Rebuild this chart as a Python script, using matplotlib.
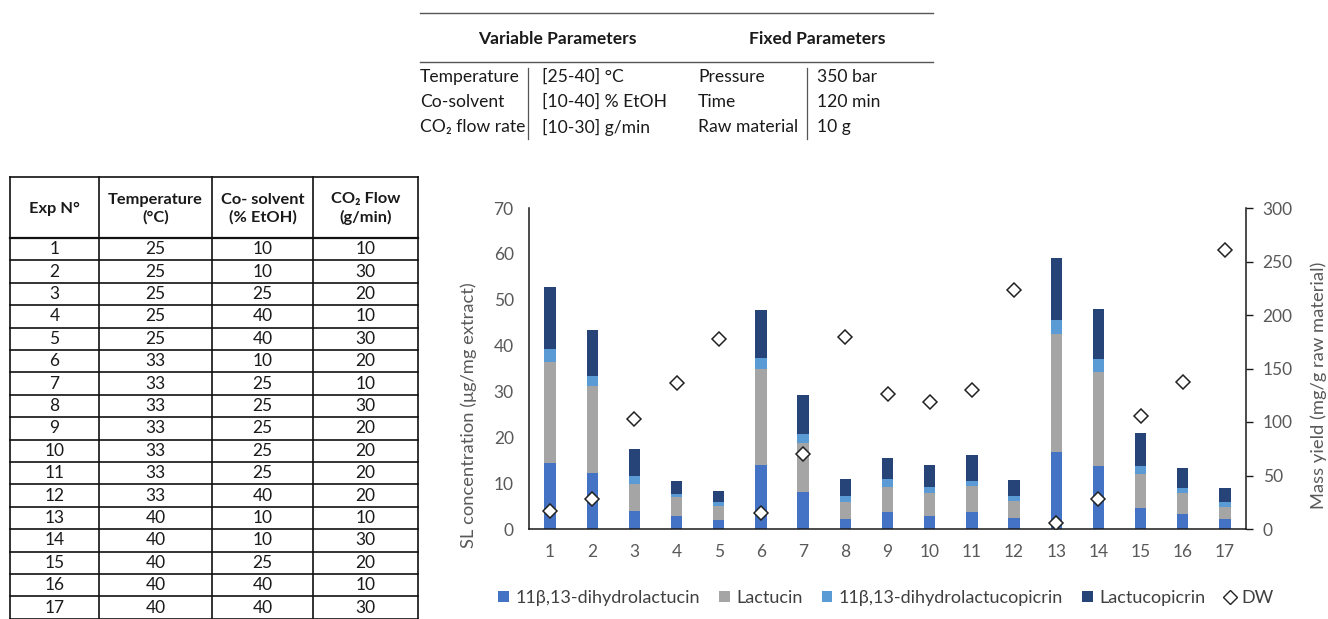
import matplotlib
matplotlib.use("Agg")
import matplotlib.pyplot as plt
from matplotlib.patches import Patch
from matplotlib.lines import Line2D
import numpy as np

plt.rcParams['font.family'] = ['Lato', 'DejaVu Sans']

# ---- data ----
exp_no = list(range(1, 18))
temperature = [25, 25, 25, 25, 25, 33, 33, 33, 33, 33, 33, 33, 40, 40, 40, 40, 40]
cosolvent = [10, 10, 25, 40, 40, 10, 25, 25, 25, 25, 25, 40, 10, 10, 25, 40, 40]
co2_flow = [10, 30, 20, 10, 30, 20, 10, 30, 20, 20, 20, 20, 10, 30, 20, 10, 30]

dh_lactucin = [14.4, 12.2, 3.9, 2.8, 2.0, 14.0, 8.0, 2.2, 3.6, 2.9, 3.6, 2.3, 16.9, 13.7, 4.6, 3.3, 2.2]
lactucin = [22.1, 18.9, 6.0, 4.2, 3.1, 21.0, 10.8, 3.6, 5.5, 4.9, 5.7, 3.7, 25.7, 20.5, 7.5, 4.5, 2.7]
dh_lactucopicrin = [2.7, 2.3, 1.7, 0.7, 0.8, 2.3, 1.9, 1.5, 1.7, 1.3, 1.2, 1.3, 2.9, 2.9, 1.7, 1.1, 1.0]
lactucopicrin = [13.6, 10.1, 5.9, 2.7, 2.3, 10.4, 8.6, 3.7, 4.7, 4.9, 5.6, 3.3, 13.6, 10.9, 7.1, 4.4, 3.0]
dw = [16.5, 28, 103, 136.5, 178, 15, 70, 179, 126, 119, 130, 223, 6, 28, 106, 137, 261]

var_params = ["Temperature", "Co-solvent", "CO\u2082 flow rate"]
var_ranges = ["[25-40] \u00b0C", "[10-40] % EtOH", "[10-30] g/min"]
fix_params = ["Pressure", "Time", "Raw material"]
fix_values = ["350 bar", "120 min", "10 g"]

series_names = ["11\u03b2,13-dihydrolactucin", "Lactucin", "11\u03b2,13-dihydrolactucopicrin", "Lactucopicrin"]
series_colors = ["#4472C4", "#A5A5A5", "#5B9BD5", "#264478"]

W, H = 1328, 619
fig = plt.figure(figsize=(W / 100, H / 100), dpi=100)

# overlay in pixel coordinates for the two tables
ov = fig.add_axes([0, 0, 1, 1])
ov.set_xlim(0, W)
ov.set_ylim(H, 0)
ov.axis('off')

txt = '#1a1a1a'
fs_top = 12.6
# top parameters table
ov.plot([420, 933], [12.5, 12.5], color='#555555', lw=1)
ov.plot([420, 933], [62, 62], color='#555555', lw=1)
ov.text(557, 39, "Variable Parameters", ha='center', va='center', fontsize=fs_top, fontweight='bold', color=txt)
ov.text(817, 39, "Fixed Parameters", ha='center', va='center', fontsize=fs_top, fontweight='bold', color=txt)
row_y = [77, 102, 127]
for i in range(3):
    ov.text(420, row_y[i], var_params[i], ha='left', va='center', fontsize=fs_top, color=txt)
    ov.text(542, row_y[i], var_ranges[i], ha='left', va='center', fontsize=fs_top, color=txt)
    ov.text(698, row_y[i], fix_params[i], ha='left', va='center', fontsize=fs_top, color=txt)
    ov.text(817, row_y[i], fix_values[i], ha='left', va='center', fontsize=fs_top, color=txt)
ov.plot([528, 528], [68, 139], color='#555555', lw=0.9)
ov.plot([807, 807], [68, 139], color='#555555', lw=0.9)

# left experiment table
col_edges = [10, 99, 212, 313, 418]
top, head_bot, row_h = 177, 238, 22.4
n_rows = len(exp_no)
bottom = head_bot + n_rows * row_h
for x in col_edges:
    ov.plot([x, x], [top, bottom], color='#111111', lw=1.2)
ov.plot([col_edges[0], col_edges[-1]], [top, top], color='#111111', lw=1.2)
ov.plot([col_edges[0], col_edges[-1]], [head_bot, head_bot], color='#111111', lw=1.6)
for r in range(1, n_rows + 1):
    y = head_bot + r * row_h
    ov.plot([col_edges[0], col_edges[-1]], [y, y], color='#111111', lw=1.2)

centers = [(col_edges[i] + col_edges[i + 1]) / 2 for i in range(4)]
headers = ["Exp N\u00b0", "Temperature\n(\u00b0C)", "Co- solvent\n(% EtOH)", "CO\u2082 Flow\n(g/min)"]
for c, h in zip(centers, headers):
    ov.text(c, (top + head_bot) / 2 + 1, h, ha='center', va='center', fontsize=11.8,
            fontweight='bold', color=txt, linespacing=1.25)
for r in range(n_rows):
    y = head_bot + (r + 0.5) * row_h
    vals = [exp_no[r], temperature[r], cosolvent[r], co2_flow[r]]
    for c, v in zip(centers, vals):
        ov.text(c, y, str(v), ha='center', va='center', fontsize=12.5, color=txt)

# ---- chart ----
ax = fig.add_axes([529 / W, 1 - 529 / H, (1246 - 529) / W, (529 - 208) / H])
ax2 = ax.twinx()

x = np.array(exp_no)
base = np.zeros(len(x))
for vals, name, col in zip([dh_lactucin, lactucin, dh_lactucopicrin, lactucopicrin], series_names, series_colors):
    ax.bar(x, vals, width=0.27, bottom=base, color=col, label=name, zorder=2)
    base = base + np.array(vals)

ax2.plot(x, dw, linestyle='none', marker='D', markersize=7.5, markerfacecolor='white',
         markeredgecolor='#222222', markeredgewidth=1.1, label='DW', zorder=3)

gray = '#595959'
fs_tick = 12.5
ax.set_xlim(0.5, 17.5)
ax.set_ylim(0, 70)
ax2.set_ylim(0, 300)
ax.set_yticks(range(0, 71, 10))
ax2.set_yticks(range(0, 301, 50))
ax.set_xticks(x)
ax.set_xticklabels([str(v) for v in exp_no])

for a in (ax, ax2):
    for s in a.spines.values():
        s.set_visible(False)
ax.spines['left'].set_visible(True)
ax.spines['bottom'].set_visible(True)
ax2.spines['right'].set_visible(True)
for s in (ax.spines['left'], ax.spines['bottom'], ax2.spines['right']):
    s.set_color('#1a1a1a')
    s.set_linewidth(1.1)

ax.tick_params(axis='y', length=0, pad=11, labelsize=fs_tick, labelcolor=gray)
ax.tick_params(axis='x', length=0, pad=11, labelsize=fs_tick, labelcolor=gray)
ax2.tick_params(axis='y', length=5, width=1, color='#1a1a1a', direction='out', pad=7,
                labelsize=fs_tick, labelcolor=gray)

ax.set_ylabel("SL concentration (\u03bcg/mg extract)", fontsize=13.2, color=gray)
ax2.set_ylabel("Mass yield (mg/g raw material)", fontsize=13.2, color=gray)
# Excel places the axis titles a bit below the plot centre
ax.yaxis.set_label_coords(-0.073, 0.355)
ax2.yaxis.set_label_coords(1.090, 0.449)

handles = [Patch(facecolor=c, edgecolor='none') for c in series_colors]
handles.append(Line2D([], [], linestyle='none', marker='D', markersize=7,
                      markerfacecolor='white', markeredgecolor='#222222'))
labels = series_names + ['DW']
fig.legend(handles, labels, loc='center', bbox_to_anchor=(886 / W, 1 - 598 / H), ncol=5,
           frameon=False, fontsize=13, handlelength=0.6, handleheight=0.6,
           handletextpad=0.35, columnspacing=1.05, labelcolor='#404040')

fig.savefig("out.png", dpi=100)
